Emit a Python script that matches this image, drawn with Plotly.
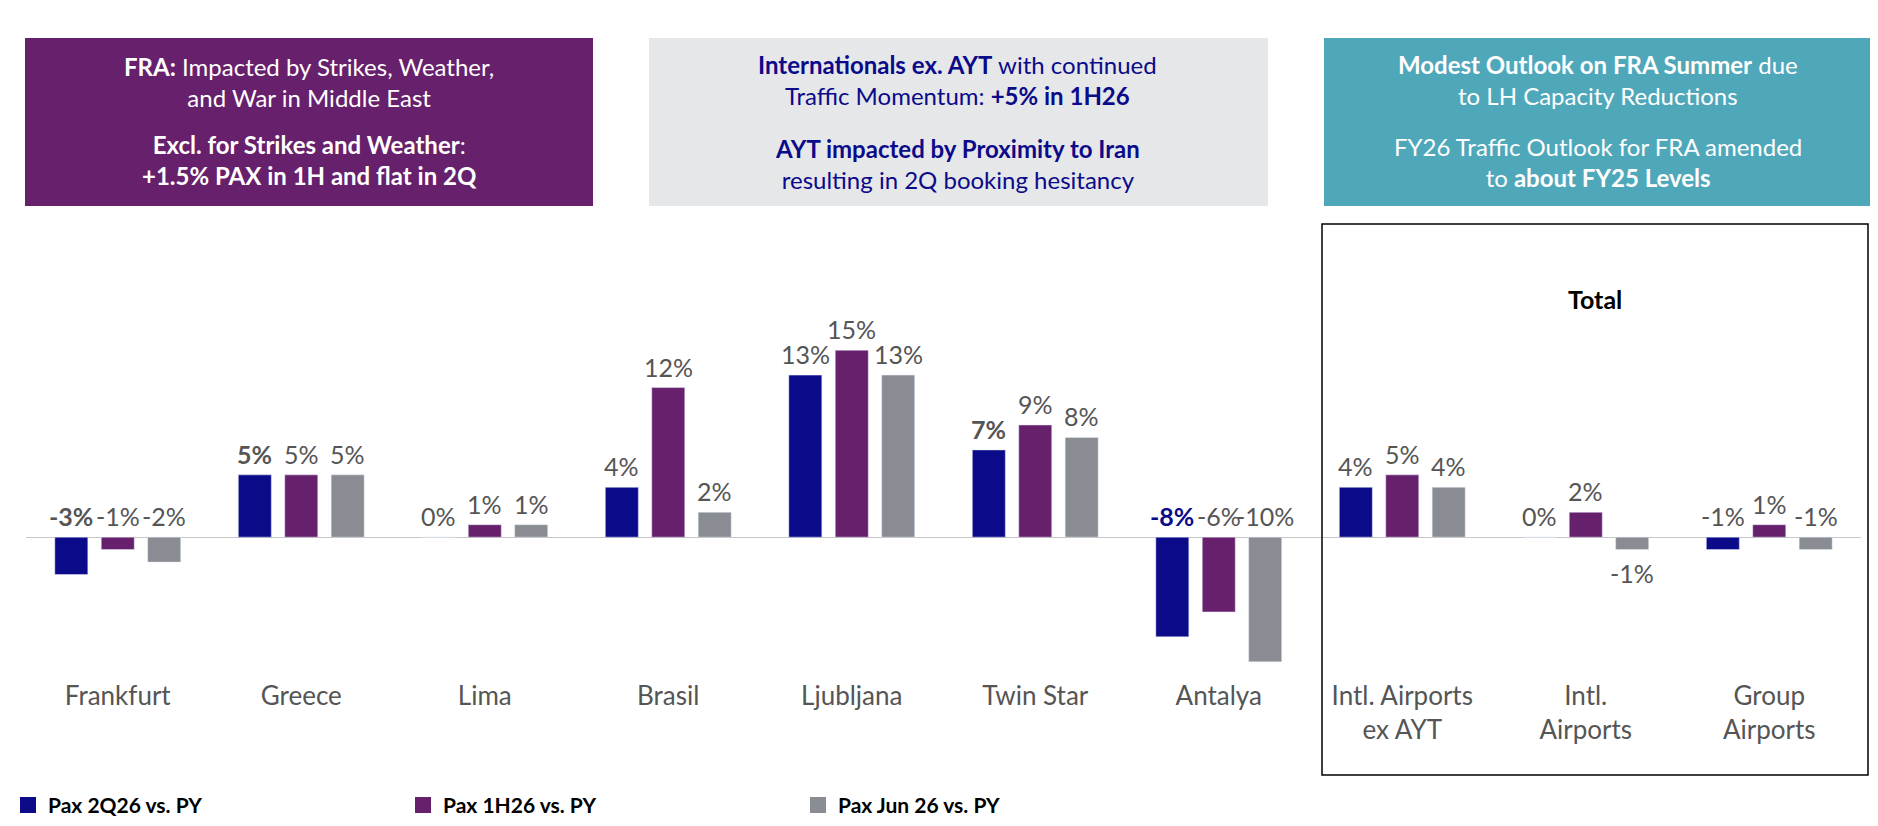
import plotly.graph_objects as go

W, H = 1878, 826

cats = ['Frankfurt', 'Greece', 'Lima', 'Brasil', 'Ljubljana', 'Twin Star', 'Antalya',
        'Intl. Airports<br>ex AYT', 'Intl.<br>Airports', 'Group<br>Airports']
series = {
    'Pax 2Q26 vs. PY': [-3, 5, 0, 4, 13, 7, -8, 4, 0, -1],
    'Pax 1H26 vs. PY': [-1, 5, 1, 12, 15, 9, -6, 5, 2, 1],
    'Pax Jun 26 vs. PY': [-2, 5, 1, 2, 13, 8, -10, 4, -1, -1],
}
colors = ['#0b0b8a', '#67206c', '#898c92']
offsets = [-0.253, 0, 0.253]
# labels shown in bold in the original
bold = {(0, 0), (0, 1), (0, 5), (0, 6)}

def px(x, y):
    return x / W, 1 - y / H

fig = go.Figure()
for k, (name, vals) in enumerate(series.items()):
    xs = [i + offsets[k] for i in range(len(cats))]
    fig.add_trace(go.Bar(x=xs, y=vals, name=name, marker_color=colors[k], width=0.18,
                         showlegend=False))
    # legend entry with a bigger square marker
    fig.add_trace(go.Scatter(x=[None], y=[None], mode='markers', name=f'<b>{name}</b>',
                             marker=dict(symbol='square', size=26, color=colors[k])))
    for i, v in enumerate(vals):
        txt = f'{v}%'
        if (k, i) in bold:
            txt = f'<b>{txt}</b>'
        col = '#0b0b8a' if (k, i) == (0, 6) else '#555555'
        if v < 0 and i == 8:
            fig.add_annotation(x=xs[i], y=v, text=txt, showarrow=False, yanchor='top', yshift=-6,
                               font=dict(size=25, color=col))
        else:
            fig.add_annotation(x=xs[i], y=max(v, 0), text=txt, showarrow=False, yanchor='bottom',
                               yshift=4, font=dict(size=25, color=col))

# top boxes
boxes = [
    (17, 30, 585, 198, '#67206c'),
    (641, 30, 1260, 198, '#e6e7e9'),
    (1316, 30, 1863, 198, '#4fa8ba'),
]
for x0, y0, x1, y1, c in boxes:
    a, b = px(x0, y0)
    cc, d = px(x1, y1)
    fig.add_shape(type='rect', xref='paper', yref='paper', x0=a, x1=cc, y0=d, y1=b,
                  fillcolor=c, line_width=0, layer='below')

texts = [
    (301, 74, '<b>FRA:</b> Impacted by Strikes, Weather,<br>and War in Middle East', 'white'),
    (301, 152, '<b>Excl. for Strikes and Weather</b>:<br><b>+1.5% PAX in 1H and flat in 2Q</b>', 'white'),
    (950, 72, '<b>Internationals ex. AYT</b> with continued<br>Traffic Momentum: <b>+5% in 1H26</b>', '#0b0b8a'),
    (950, 156, '<b>AYT impacted by Proximity to Iran</b><br>resulting in 2Q booking hesitancy', '#0b0b8a'),
    (1590, 72, '<b>Modest Outlook on FRA Summer</b> due<br>to LH Capacity Reductions', 'white'),
    (1590, 154, 'FY26 Traffic Outlook for FRA amended<br>to <b>about FY25 Levels</b>', 'white'),
]
for x, y, t, c in texts:
    a, b = px(x, y)
    fig.add_annotation(xref='paper', yref='paper', x=a, y=b, text=t, showarrow=False,
                       xanchor='center', yanchor='middle',
                       font=dict(size=24, color=c), align='center')

# Total frame
a, b = px(1314, 216)
cc, d = px(1860, 767)
fig.add_shape(type='rect', xref='paper', yref='paper', x0=a, x1=cc, y0=d, y1=b,
              line=dict(color='black', width=1.5))
a, b = px(1587, 291)
fig.add_annotation(xref='paper', yref='paper', x=a, y=b, text='<b>Total</b>', showarrow=False,
                   xanchor='center', yanchor='middle', font=dict(size=25, color='black'))

fig.update_layout(
    width=W, height=H, margin=dict(l=0, r=0, t=0, b=0),
    plot_bgcolor='white', paper_bgcolor='white',
    font=dict(family='Lato', color='#555555'),
    barmode='overlay',
    xaxis=dict(domain=[18 / W, 1853 / W], range=[-0.5, 9.5], tickvals=list(range(10)),
               ticktext=cats, showgrid=False, zeroline=False, showline=False, ticks='',
               tickfont=dict(size=26, color='#555555')),
    yaxis=dict(domain=[1 - 670 / H, 1 - 230 / H], range=[-11.3, 24], showgrid=False,
               zeroline=True, zerolinecolor='#c8c8c8', zerolinewidth=1, showticklabels=False),
    legend=dict(orientation='h', x=0.0, y=0.01, yanchor='bottom', xanchor='left',
                entrywidth=350, font=dict(size=21, color='black', family='Lato')),
)

fig.write_html("out.html")
